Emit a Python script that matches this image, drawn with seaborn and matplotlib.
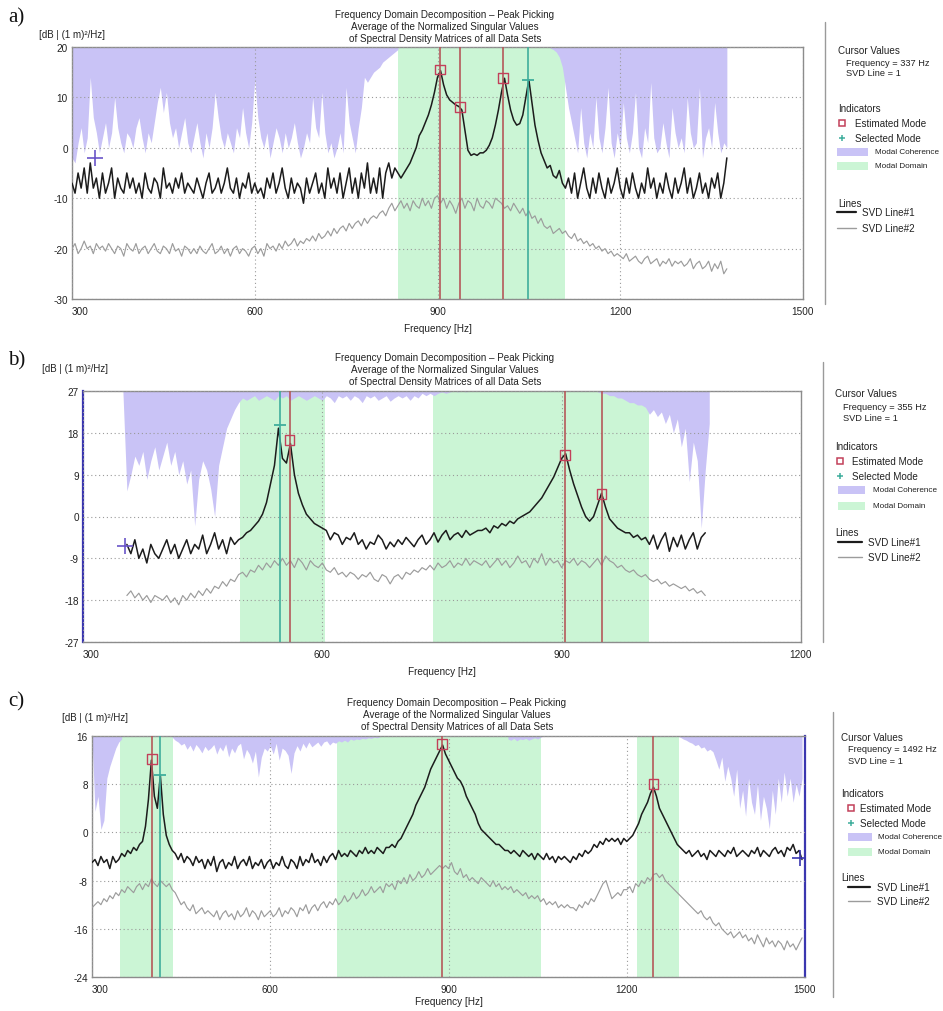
import numpy as np
import pandas as pd
import matplotlib
matplotlib.use("Agg")
import matplotlib.pyplot as plt
import seaborn as sns
from matplotlib.lines import Line2D
from matplotlib.patches import Rectangle

W, H = 943, 1012
STEP = 5  # Hz between read-off samples

# ---------------- panel a ----------------
svd1_a_start = 300
svd1_a = [-7, -9, -5, -8, -4, -9, -3, -8, -6, -10, -5, -9, -7, -4, -10, -6, -8, -9, -5, -8,
          -6, -9, -7, -10, -5, -8, -9, -6, -7, -10, -4, -8, -7, -9, -6, -8, -5, -9, -7, -8,
          -9, -6, -8, -10, -7, -5, -9, -8, -6, -9, -7, -4, -8, -9, -6, -10, -7, -8, -5, -9,
          -7, -9, -8, -10, -6, -8, -5, -9, -7, -4, -8, -10, -6, -9, -7, -8, -11, -6, -9, -7,
          -5, -9, -7, -10, -4, -8, -6, -9, -5, -10, -7, -4, -9, -6, -10, -5, -8, -3, -9, -6,
          -9, -4, -10, -5, -3, -6, -4, -5, -6, -5, -4, -3, -1.5, 0, 2.4, 3.5, 5, 6.5, 8.5, 11,
          14, 15.3, 12.5, 10.5, 9.5, 9, 8.5, 8.2, 7.5, 3.5, -0.5, -1.5, -1.2, -1.5, -1, -1, -0.5, 0.5, 2, 4.5,
          7.5, 11, 13.8, 10.5, 7.5, 5.5, 4.5, 4.8, 6.5, 10, 13.5, 9, 4.5, 1.5, -1, -2.5, -4, -3.5, -5.5, -6,
          -4.5, -7, -8, -6, -9, -5, -10, -7, -4, -8, -10, -6, -9, -5, -8, -10, -6, -9, -7, -4,
          -8, -10, -6, -9, -5, -8, -10, -7, -9, -4, -8, -6, -10, -7, -9, -5, -8, -10, -6, -9,
          -7, -4, -9, -6, -10, -8, -5, -9, -7, -10, -6, -8, -5, -10, -7, -2]
svd2_a = [-20, -19, -21, -20, -18.5, -20, -19.5, -21, -19, -20, -19.5, -20.5, -19, -20, -21, -19.5, -20, -21.5, -19, -20,
          -20.5, -19, -21, -20, -19.5, -21, -20, -19, -20.5, -21, -19.5, -20, -21, -19, -20.5, -20, -21.5, -19.5, -20, -21,
          -20, -21, -19.5, -20.5, -21, -20, -19, -21, -20.5, -19.5, -21, -20, -21.5, -20, -19.5, -21, -20, -20.5, -21.5, -20,
          -19.5, -21, -20, -21.5, -19, -20, -19.5, -20.5, -19, -20, -18.5, -19.5, -19, -18, -19.5, -18.5, -19, -18, -18.5, -17.5,
          -18.5, -17, -18, -17.5, -16.5, -17.5, -16, -17, -16, -15.5, -16.5, -15, -16, -15, -14.5, -15.5, -14, -15, -14, -13.5,
          -14, -13, -12.5, -13.5, -12, -11, -12.5, -11.5, -10.5, -12, -11, -12.5, -10.5, -11.5, -12, -10, -11.5, -10.5, -12, -10,
          -9.5, -11, -10, -12, -10.5, -11.5, -13, -11, -10, -12, -10.5, -11, -12.5, -10, -11.5, -12, -10.5, -11, -12, -10,
          -10.5, -11, -12, -11.5, -12.5, -11, -12, -13, -12, -13.5, -12.5, -14, -13.5, -15, -14, -15.5, -16, -15.5, -17, -16.5,
          -16, -17, -16.5, -17.5, -18, -17, -18.5, -18, -19, -18.5, -19.5, -19, -20, -19.5, -20.5, -20, -21, -20.5, -21.5, -21,
          -21.5, -22, -21, -22.5, -22, -21.5, -22.5, -23, -22, -21.5, -23, -22.5, -22, -23.5, -22.5, -23, -22, -23.5, -22.5, -23,
          -22.5, -23.5, -23, -22, -24, -23, -22.5, -24, -23.5, -22.5, -24.5, -23, -24, -22.5, -25, -24]
# lower edge of the modal-coherence band (band hangs from the top of the axes)
coh_a = [
    (300, [-2, -3, 1, 4, -1, 2, 14, 6, 3, -1, 2, 5, 0, 3, 10, 4, 1, -1, 3, 2,
           0, 4, 6, 2, -1, 3, 1, 5, 9, 12, 7, 11, 5, 2, 4, 0, 3, 6, 1, -1,
           2, 5, 1, -2, 3, 0, 4, 11, 6, 2, 0, 3, 1, -1, 4, 2, 8, 3, 0, 5,
           13.5, 6, 2, 0, 3, -2, 1, 4, 2, -1, 3, 0, 2, 5, 1, -2, 0, 3, 1, 10,
           4, 2, 11, 3, -1, 1, -2, 0, 3, -1, 12, 5, 2, -1, 4, 8, 14, 13, 14, 15,
           15.5, 16, 17, 17.5, 18, 18.5, 19, 19.5]),
    (1085, [19.8, 19.5, 19, 18, 16, 12, 8,
            5, 2, -1, 8, 1, -2, 3, 0, 10, 2, -1, 4, 12, 1, -2, 3,
            0, 9, 2, -1, 3, 11, 0, -2, 4, 1, 13, 2, -1, 0, 5, 1, -2, 8, 3, 0,
            2, -1, 10, 3, 0, 1, 12, -2, 2, 4, 0, 9, 3, -1, 1, 0]),
]
domain_a = [(835, 1110)]
est_f_a = [904, 937, 1008]
est_db_a = [15.5, 8.1, 13.8]
sel_f_a = [1048]
sel_db_a = [13.5]
cursor_a = (337, -2)

# ---------------- panel b ----------------
svd1_b_start = 355
svd1_b = [-6, -8, -5, -9, -7, -10, -6, -8, -9,
          -7, -5, -8, -6, -9, -7, -5, -8, -6, -7, -4, -8, -6, -3.5, -7, -5, -8, -4.5, -6, -5,
          -4.5, -3.5, -3, -2, -1, 0.5, 3, 7, 11, 19, 12.5, 11.5, 15.7, 9, 5, 2.5, 0.5, -0.5, -1.5, -2,
          -2.5, -3, -5, -3.5, -4, -6, -4.5, -5, -3.5, -6, -5, -7, -5.5, -6, -4, -5, -7, -5.5, -6.5, -5,
          -6, -4.5, -5.5, -6.5, -5, -4, -6, -5, -3.5, -5.5, -4, -3, -5, -4, -3.5, -4.5, -3, -4, -3.5, -3,
          -3, -2.5, -3.5, -2, -2.5, -1.5, -2, -1, -1.5, -0.5, 0, 0.5, 1, 2, 3, 4, 5.5, 7, 8.5, 10.5,
          12.5, 13.5, 10, 7, 4.5, 2, 0, -1, 0, 2.5, 5, 2, -0.5, -1.5, -2.5, -3, -3.5, -3.5, -4.5, -4,
          -5, -4.5, -6, -4, -7, -5, -3.5, -7.5, -4.5, -6.5, -4, -7, -5, -3.5, -7, -4.5, -3.5]
svd2_b = [-17, -16, -17.5, -16.5, -18, -17, -18.5, -17, -17.5,
          -18, -17, -18.5, -17.5, -19, -17, -18, -16.5, -17.5, -16, -17, -15.5, -16.5, -15, -15.5, -14, -15, -13.5, -14, -12.5,
          -12, -13, -11.5, -12, -10.5, -11.5, -10, -11, -9.5, -10.5, -9, -10.5, -9.5, -11, -9, -10, -11.5, -9.5, -10.5, -11,
          -10, -11.5, -12, -11, -12.5, -12, -13, -12, -12.5, -13.5, -12.5, -13, -12, -13.5, -14, -12.5, -13, -14.5, -13, -12.5,
          -13.5, -12, -12.5, -11.5, -12, -11, -11.5, -10.5, -11.5, -10, -11, -10.5, -9.5, -11, -10, -10.5, -9, -10.5, -9.5, -10,
          -10.5, -9.5, -11, -10, -9, -10.5, -9.5, -11, -10, -8.5, -10, -9.5, -11, -9, -10, -8, -10.5, -9, -10, -9.5,
          -11, -9.5, -10, -9, -10.5, -9.5, -10, -11, -10, -9, -10.5, -8.5, -9.5, -10, -11, -10.5, -11.5, -12, -11.5, -12.5,
          -13, -12.5, -13.5, -14, -13.5, -14.5, -14, -15, -14.5, -15, -15.5, -15, -16, -15.5, -16.5, -16, -17]
coh_b = [
    (350, [27, 5.5, 9, 13, 11, 14, 8, 12, 15, 10, 13, 16, 11, 14, 9, 12, 7, 10, -2, 8,
           12, 10, 6, 0, 11, 15, 19, 21, 23, 24.5,
           25.5, 25, 25.5, 26, 25, 25.5, 26, 25.5, 25, 26, 25.5, 26, 25, 25.5, 26, 25.5, 25, 25.5, 26, 25.5,
           25, 26, 25.5, 24.5, 26, 25.5, 26, 25, 26, 25.5, 24.5, 26, 25.5, 26, 25, 25.5, 26, 24.8, 25.5, 26,
           25.5, 26, 25, 26, 25.5, 26.5, 26, 26.5, 26, 26.5, 26.8, 26.5, 26.8, 27, 26.8, 27, 26.8, 27, 27, 27]),
    (945, [26.8, 26.5, 26.5, 26, 26, 25.5, 25.5, 25, 24.5, 24.5, 24, 24, 23.5, 22, 23, 21.5, 22.5,
           20, 22, 18, 21, 15, 19, 7.5, 16, 12, -2.5, 10, 20]),
]
domain_b = [(497, 603), (739, 1009)]
est_f_b = [559, 904, 950]
est_db_b = [16.5, 13.2, 4.9]
sel_f_b = [547]
sel_db_b = [19.7]
cursor_b = (353, -6.3)

# ---------------- panel c ----------------
svd1_c_start = 300
svd1_c = [-5, -4.5, -5.5, -4, -5, -4.5, -6, -4, -5, -4.5, -3.5, -4, -3, -3.5, -2.5, -3, -2, -1.5, 1, 5.5,
          12, 6, 4, 9.5, 3, -0.5, -2, -3, -3.5, -4.5, -3.5, -5, -4, -4.5, -5.5, -4, -5, -4.5, -6, -4.5,
          -5.5, -4, -6.5, -5, -4.5, -6, -5, -5.5, -4, -6, -5, -4.5, -5.5, -4, -6, -5, -5.5, -4.5, -6, -5,
          -4.5, -6, -5, -5.5, -4, -5.5, -6, -4.5, -5, -6, -4, -5.5, -4.5, -5, -3.5, -5, -4.5, -5.5, -4, -5,
          -4, -3.5, -4.5, -3, -4, -3.5, -4, -3, -3.5, -4, -3, -3.5, -2.5, -3.5, -3, -3.5, -2.5, -3, -3.5, -2.5,
          -2.5, -2, -2.5, -1.5, -1, 0, 1, 2, 3, 4.5, 5.5, 6.5, 7.5, 9, 10.5, 11.5, 12.5, 13.5, 14.5, 13,
          12, 11, 10, 9, 8.5, 7.5, 6, 5, 4, 3, 1.5, 0.5, 0, -0.5, -1, -1.5, -2, -2, -2.5, -3,
          -3, -3.5, -3, -3.5, -4, -3, -3.5, -4, -3.5, -4.5, -3.5, -4, -4.5, -3.5, -4.5, -4, -5, -4, -4.5, -4,
          -4.5, -5, -4, -4.5, -3.5, -4, -3, -3.5, -3, -2, -2.5, -1.5, -2, -1, -1.5, -1, -1.5, -1, -2, -1,
          -1.5, -1, -0.5, 0.5, 1.5, 3, 4, 5, 6.5, 7.5, 6, 4, 3, 2, 1, 0, -1, -2, -2.5, -3,
          -3.5, -3, -4, -3.5, -3, -4, -3.5, -4.5, -3, -3.5, -4, -3, -3.5, -4, -3, -3.5, -2.5, -4, -3.5, -3,
          -3.5, -4, -3, -3.5, -2.5, -4, -3, -3.5, -4, -3, -2.5, -3.5, -3, -4, -2.5, -3, -2, -3.5, -3, -4.5]
svd2_c = [-12.5, -12, -11.5, -12, -11, -11.5, -10.5, -11, -10, -10.5, -9.5, -10, -9, -9.5, -10, -9, -8.5, -9.5, -8.5, -9,
          -7.7, -8.5, -9, -8, -8.5, -9, -8.5, -9.5, -10, -11, -12, -11.5, -12.5, -13, -12, -13.5, -13, -12.5, -13.5, -13,
          -13.5, -14, -13, -14.5, -13.5, -13, -14, -13.5, -14.5, -13, -14, -13.5, -12.5, -14, -13, -13.5, -14.5, -13, -14, -13.5,
          -13, -14, -13.5, -12.5, -14, -13, -13.5, -12.5, -13, -14, -12.5, -13, -12, -13.5, -12.5, -12, -13, -12, -11.5, -12.5,
          -11.5, -12, -11, -12, -11.5, -10.5, -11.5, -11, -10, -11, -10.5, -9.5, -10.5, -10, -9, -10, -9.5, -9, -10, -8.5,
          -9, -8.5, -9.5, -8, -8.5, -7.5, -8.5, -7, -8, -7.5, -6.5, -7.5, -7, -6, -7, -6.5, -6, -5.5, -6, -5.5,
          -6, -5, -6.5, -7, -6, -7.5, -7, -8, -7.5, -8, -8.5, -7.5, -8, -8.5, -9, -8, -9, -8.5, -9.5, -9,
          -9.5, -9, -10, -9.5, -10, -10.5, -10, -11, -10.5, -11, -10.5, -11.5, -11, -12, -11.5, -12, -11.5, -12.5, -12, -12.5,
          -12, -12.5, -12.5, -13, -12, -12.5, -11.5, -12, -11, -11.5, -10.5, -9.5, -8.5, -8, -9.5, -11, -10.5, -10, -10.5, -9.5,
          -9.5, -9, -10, -8.5, -9, -8, -8.5, -7.5, -8, -7, -6.8, -7.5, -7, -8, -8.5, -9, -9.5, -10, -10.5, -11,
          -11.5, -12, -12.5, -13, -13.5, -13, -14, -14.5, -14, -15, -15.5, -15, -16, -16.5, -17, -16.5, -17.5, -17, -16.5, -17.5,
          -17, -18, -17.5, -18.5, -17, -18, -19, -17.5, -18.5, -18, -19, -18, -18.5, -19.5, -18, -19, -18.5, -19.5, -18.5, -17.5]
coh_c = [
    (300, [16, 3.5, 6, 0.5, 2, 9, 11, 12.5, 14, 15, 15.5]),
    (435, [15.8, 15.3, 15, 14.5, 14.8, 13.8, 14.5, 13.5, 14.6, 14, 13.2, 14.3, 13.6,
           14, 14.6, 13, 14.2, 13.5, 14.7, 12.5, 14, 13.2, 14.4, 14.8, 12.2, 13.8, 13, 11.5, 13.5, 9.2, 12.5, 14, 13.5,
           14.4, 13, 14.8, 12, 14, 13.6, 12.8, 9.8, 13.2, 14.4, 13.5, 14.8, 14, 15, 14.2, 14.6, 15, 14.3, 15, 15.2,
           14.5, 15, 14.8, 15.2, 15, 15.3, 15, 15.5, 15.3, 15.5, 15.4, 15.6, 15.5, 15.7, 15.6, 15.8, 15.7, 15.9, 16]),
    (1000, [15.5, 15.3, 15.6, 15.2, 15.5, 15.4, 15.6, 15.3, 15.5, 15.7, 15.5, 15.8, 16]),
    (1285, [16, 15.8, 15.5, 15.3, 15, 14.8, 14.4, 14.6, 14, 14.2, 13.5, 13.8, 13.4, 12, 10.5, 12.5, 8.5,
            11, 9, 6, 10.5, 4, 7, 2.7, 9, 5, 3, 8, 2, 6, 4, 0.6, 7, 3, 9, 5, 10, 6, 9, 5, 8, 6, 9]),
]
domain_c = [(347, 436), (713, 1056), (1217, 1288)]
est_f_c = [401, 889, 1245]
est_db_c = [12.2, 14.7, 8.0]
sel_f_c = [415]
sel_db_c = [9.5]
cursor_c = (1492, -4.3)

# ---------------- style ----------------
PURPLE = "#c9c3f6"
GREEN = "#cbf5d5"
BLACK = "#1c1c1c"
GRAY = "#9c9c9c"
RED = "#b5585a"
TEAL = "#3fae9c"
BOX = "#c2405a"
FRAME = "#8c8c8c"
BLUE = "#3a36b0"
TXT = "#222222"

sns.set_theme(style="white")
plt.rcParams["font.family"] = ["Liberation Sans", "DejaVu Sans"]
plt.rcParams["axes.unicode_minus"] = False


def fx(x):
    return x / W


def fy(y):
    return 1 - y / H


panels = [
    dict(tag="a)", rect=(72, 48, 803, 300), xlim=(300, 1500), xticks=[300, 600, 900, 1200, 1500],
         ylim=(-30, 20), yticks=[-30, -20, -10, 0, 10, 20],
         s1=(svd1_a_start, svd1_a), s2=(svd1_a_start, svd2_a), coh=coh_a, dom=domain_a,
         est=(est_f_a, est_db_a), sel=(sel_f_a, sel_db_a), cur=cursor_a, cur_col="#6a55c8",
         blue_spine=None, freq="337 Hz", tag_y=18, unit_xy=(39, 35), title_xy=(445, 15),
         sep=(825, 23, 305), xlpad=5,
         leg=dict(hx=838, sx=846, mx=842, tx=855, p0=837, p1=868, smx=875, l0=837, l1=856, ltx=862,
                  ys=[51, 63, 74, 109, 124, 139, 153, 167, 204, 213, 229])),
    dict(tag="b)", rect=(83, 392, 801, 643), xlim=(300, 1200), xticks=[300, 600, 900, 1200],
         ylim=(-27, 27), yticks=[-27, -18, -9, 0, 9, 18, 27],
         s1=(svd1_b_start, svd1_b), s2=(svd1_b_start, svd2_b), coh=coh_b, dom=domain_b,
         est=(est_f_b, est_db_b), sel=(sel_f_b, sel_db_b), cur=cursor_b, cur_col="#6a55c8",
         blue_spine="left", freq="355 Hz", tag_y=361, unit_xy=(42, 369), title_xy=(445, 358),
         sep=(823, 363, 643), xlpad=5,
         leg=dict(hx=835, sx=843, mx=840, tx=852, p0=838, p1=865, smx=873, l0=838, l1=862, ltx=868,
                  ys=[394, 407, 419, 447, 462, 477, 491, 507, 533, 543, 558])),
    dict(tag="c)", rect=(92, 737, 805, 978), xlim=(300, 1500), xticks=[300, 600, 900, 1200, 1500],
         ylim=(-24, 16), yticks=[-24, -16, -8, 0, 8, 16],
         s1=(svd1_c_start, svd1_c), s2=(svd1_c_start, svd2_c), coh=coh_c, dom=domain_c,
         est=(est_f_c, est_db_c), sel=(sel_f_c, sel_db_c), cur=cursor_c, cur_col=BLUE,
         blue_spine="right", freq="1492 Hz", tag_y=702, unit_xy=(62, 718), title_xy=(457, 703),
         sep=(833, 713, 998), xlpad=1.5,
         leg=dict(hx=841, sx=848, mx=851, tx=860, p0=848, p1=872, smx=878, l0=848, l1=870, ltx=877,
                  ys=[738, 750, 762, 794, 809, 824, 838, 853, 878, 888, 902])),
]

title_lines = ["Frequency Domain Decomposition \u2013 Peak Picking",
               "Average of the Normalized Singular Values",
               "of Spectral Density Matrices of all Data Sets"]

fig = plt.figure(figsize=(W / 100, H / 100), dpi=100)

for p in panels:
    x0, y0, x1, y1 = p["rect"]
    ax = fig.add_axes([fx(x0), fy(y1), (x1 - x0) / W, (y1 - y0) / H])
    top = p["ylim"][1]

    for lo, hi in p["dom"]:
        ax.axvspan(lo, hi, color=GREEN, lw=0, zorder=0)
    for start, vals in p["coh"]:
        f = start + STEP * np.arange(len(vals))
        ax.fill_between(f, top, vals, color=PURPLE, lw=0, zorder=1)

    st, v2 = p["s2"]
    d2 = pd.DataFrame({"f": st + STEP * np.arange(len(v2)), "db": v2})
    sns.lineplot(data=d2, x="f", y="db", ax=ax, color=GRAY, lw=0.85, estimator=None, zorder=3)
    st, v1 = p["s1"]
    d1 = pd.DataFrame({"f": st + STEP * np.arange(len(v1)), "db": v1})
    sns.lineplot(data=d1, x="f", y="db", ax=ax, color=BLACK, lw=1.1, estimator=None, zorder=4)

    ef, edb = p["est"]
    sf, sdb = p["sel"]
    for f in ef:
        ax.axvline(f, color=RED, lw=1.2, zorder=5)
    for f in sf:
        ax.axvline(f, color=TEAL, lw=1.2, zorder=5)
    sns.scatterplot(x=ef, y=edb, ax=ax, marker="s", s=48, facecolor="none",
                    edgecolor=BOX, linewidth=1.0, zorder=6)
    ax.plot(sf, sdb, ls="none", marker="_", ms=9, mew=1.3, color=TEAL, zorder=6)
    ax.plot([p["cur"][0]], [p["cur"][1]], ls="none", marker="+", ms=11, mew=1.2,
            color=p["cur_col"], zorder=7)

    ax.set_xlim(*p["xlim"])
    ax.set_ylim(*p["ylim"])
    ax.set_xticks(p["xticks"], [str(t) for t in p["xticks"]])
    ax.set_yticks(p["yticks"], [str(t) for t in p["yticks"]])
    ax.get_xticklabels()[0].set_horizontalalignment("left")
    ax.tick_params(axis="both", length=0, labelsize=7.2, colors=TXT)
    ax.tick_params(axis="x", pad=5)
    ax.tick_params(axis="y", pad=3)
    ax.set_axisbelow(False)
    ax.grid(True, ls=(0, (1, 2.5)), color="#9a9a9a", lw=0.8)
    ax.set_xlabel("Frequency [Hz]", fontsize=7.2, color=TXT, labelpad=p["xlpad"])
    ax.set_ylabel("")
    for side, sp in ax.spines.items():
        sp.set_color(FRAME)
        sp.set_linewidth(1.0)
    if p["blue_spine"]:
        ax.spines[p["blue_spine"]].set_color(BLUE)
        ax.spines[p["blue_spine"]].set_linewidth(1.6)

    # headings
    fig.text(fx(8), fy(p["tag_y"]), p["tag"], family=["Liberation Serif", "DejaVu Serif"],
             fontsize=15, va="center", ha="left", color="#111111")
    ux, uy = p["unit_xy"]
    fig.text(fx(ux), fy(uy), "[dB | (1 m)\u00b2/Hz]", fontsize=7, va="center", ha="left", color=TXT)
    tx, ty = p["title_xy"]
    for i, line in enumerate(title_lines):
        fig.text(fx(tx), fy(ty + 11.8 * i), line, fontsize=7.1, ha="center", va="center", color=TXT)

    # separator
    sx, sy0, sy1 = p["sep"]
    fig.add_artist(Line2D([fx(sx), fx(sx)], [fy(sy0), fy(sy1)], color="#9a9a9a", lw=1.0))

    # side legend
    L = p["leg"]
    ys = L["ys"]
    fig.text(fx(L["hx"]), fy(ys[0]), "Cursor Values", fontsize=7.1, va="center", color=TXT)
    fig.text(fx(L["sx"]), fy(ys[1]), "Frequency = " + p["freq"], fontsize=6.7, va="center", color=TXT)
    fig.text(fx(L["sx"]), fy(ys[2]), "SVD Line = 1", fontsize=6.7, va="center", color=TXT)
    fig.text(fx(L["hx"]), fy(ys[3]), "Indicators", fontsize=7.1, va="center", color=TXT)
    fig.add_artist(Line2D([fx(L["mx"])], [fy(ys[4])], marker="s", ms=4.5, mfc="none",
                          mec=BOX, mew=1.1, ls="none"))
    fig.text(fx(L["tx"]), fy(ys[4]), "Estimated Mode", fontsize=7.1, va="center", color=TXT)
    fig.add_artist(Line2D([fx(L["mx"])], [fy(ys[5])], marker="+", ms=5, mec=TEAL, mew=1.1, ls="none"))
    fig.text(fx(L["tx"]), fy(ys[5]), "Selected Mode", fontsize=7.1, va="center", color=TXT)
    for k, col, lab in [(6, PURPLE, "Modal Coherence"), (7, GREEN, "Modal Domain")]:
        fig.add_artist(Rectangle((fx(L["p0"]), fy(ys[k] + 4)), (L["p1"] - L["p0"]) / W, 8 / H,
                                 transform=fig.transFigure, color=col, lw=0))
        fig.text(fx(L["smx"]), fy(ys[k]), lab, fontsize=5.9, va="center", color=TXT)
    fig.text(fx(L["hx"]), fy(ys[8]), "Lines", fontsize=7.1, va="center", color=TXT)
    fig.add_artist(Line2D([fx(L["l0"]), fx(L["l1"])], [fy(ys[9]), fy(ys[9])], color=BLACK, lw=1.6))
    fig.text(fx(L["ltx"]), fy(ys[9]), "SVD Line#1", fontsize=7.1, va="center", color=TXT)
    fig.add_artist(Line2D([fx(L["l0"]), fx(L["l1"])], [fy(ys[10]), fy(ys[10])], color=GRAY, lw=1.0))
    fig.text(fx(L["ltx"]), fy(ys[10]), "SVD Line#2", fontsize=7.1, va="center", color=TXT)

fig.savefig("out.png", dpi=100)
